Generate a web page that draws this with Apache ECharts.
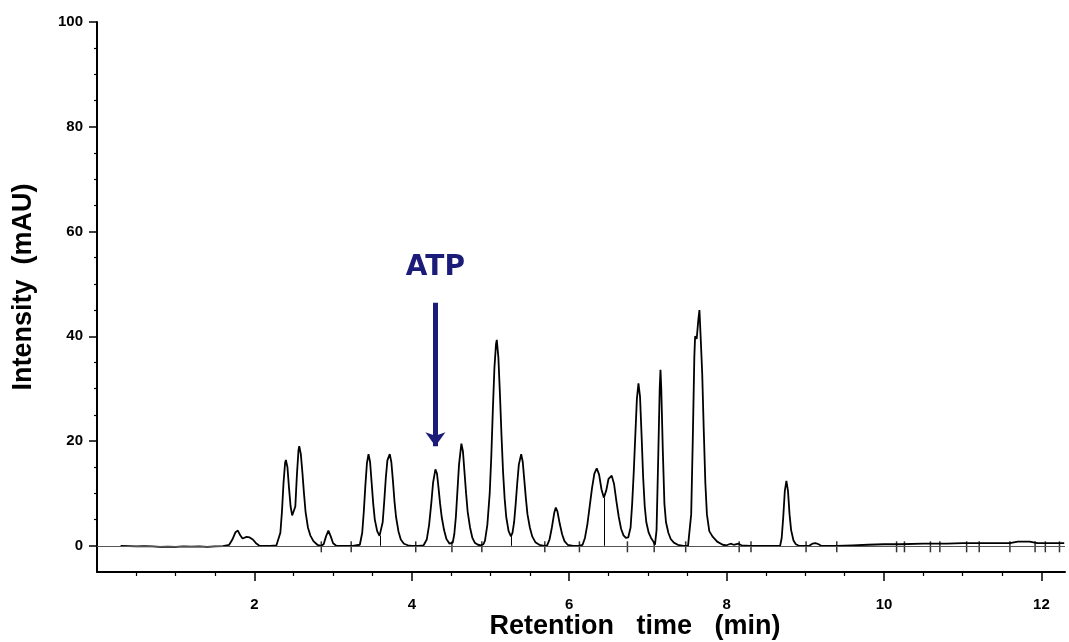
<!DOCTYPE html>
<html>
<head>
<meta charset="utf-8">
<script src="https://cdn.jsdelivr.net/npm/echarts@6/dist/echarts.min.js"></script>
<style>
html,body{margin:0;padding:0;background:#fff;}
#chart{width:1069px;height:642px;}
</style>
</head>
<body>
<div id="chart"></div>
<script>
// Chromatogram trace: [retention time (min), intensity (mAU)]
const chromatogram = [
[0.30,0],[0.40,-0.05],[0.50,-0.1],[0.60,-0.05],[0.70,-0.1],[0.80,-0.2],[0.90,-0.15],[1.00,-0.2],[1.10,-0.1],[1.20,-0.15],[1.30,-0.1],[1.40,-0.2],[1.50,-0.1],[1.60,-0.05],[1.68,0.2],[1.72,1.2],[1.76,2.6],[1.79,2.9],[1.82,2.0],[1.85,1.4],[1.90,1.7],[1.94,1.6],[1.98,1.2],[2.02,0.5],[2.06,0.05],[2.10,0],[2.20,0],[2.28,0.1],
[2.30,0.4],[2.33,2.5],[2.35,6.5],[2.37,12],[2.39,15.8],[2.40,16.4],[2.42,15],[2.44,11],[2.46,7.5],[2.48,5.8],[2.50,5.5],[2.52,7.5],[2.54,13.5],[2.56,18.2],[2.57,19.0],[2.59,17.5],[2.61,14],[2.63,10],[2.65,6.5],[2.68,3.5],[2.71,2.0],[2.75,0.9],[2.80,0.2],[2.85,0],
[2.88,0.3],[2.91,1.8],[2.94,2.9],[2.97,1.8],[3.00,0.5],[3.04,0],[3.15,0],[3.25,0],
[3.34,0.2],[3.37,2.5],[3.39,6.5],[3.41,11.5],[3.43,15.8],[3.45,17.5],[3.47,16],[3.49,12],[3.51,8],[3.53,5],[3.56,2.8],[3.59,1.9],[3.61,2.2],[3.63,4.5],[3.65,8.5],[3.67,13],[3.69,16.3],[3.72,17.5],[3.74,16],[3.76,12.5],[3.78,8.5],[3.80,5.5],[3.83,2.8],[3.86,1.2],[3.90,0.4],[3.95,0.1],[4.00,0],[4.08,0],[4.15,0.1],
[4.19,1.2],[4.22,4],[4.25,8.5],[4.27,12],[4.30,14.6],[4.32,13.8],[4.34,11],[4.36,8],[4.38,5.5],[4.41,3],[4.44,1.3],[4.48,0.4],[4.50,0.3],
[4.52,0.6],[4.54,2.2],[4.56,5.5],[4.58,10.5],[4.60,15.5],[4.63,19.5],[4.65,18],[4.67,14],[4.69,10],[4.71,6.5],[4.74,3.5],[4.77,1.5],[4.80,0.6],[4.84,0.2],[4.88,0.1],
[4.91,0.3],[4.93,1],[4.96,4],[4.99,10],[5.01,17],[5.03,26],[5.05,34],[5.07,38.5],[5.08,39.3],[5.10,36],[5.12,29],[5.14,21],[5.16,14],[5.18,9],[5.20,5.5],[5.23,2.8],[5.26,1.8],
[5.28,2.5],[5.30,4.5],[5.32,8],[5.34,12],[5.36,15.5],[5.39,17.5],[5.41,16],[5.43,12.5],[5.45,9],[5.47,6],[5.50,3.5],[5.53,1.8],[5.57,0.7],[5.62,0.2],[5.68,0],
[5.72,0.1],[5.75,1.2],[5.78,3.5],[5.81,6.3],[5.83,7.3],[5.85,6.6],[5.88,4.2],[5.91,2.2],[5.94,0.9],[5.98,0.2],[6.05,0],[6.12,0],
[6.17,0.2],[6.20,1.5],[6.23,4],[6.26,7.5],[6.29,11],[6.32,13.8],[6.35,14.8],[6.38,13.6],[6.41,10.8],[6.44,9.2],[6.47,10.5],[6.50,12.8],[6.54,13.4],[6.57,11.8],[6.60,8.5],[6.63,5.5],[6.66,3.2],[6.69,2],[6.72,1.5],
[6.75,1.6],[6.78,3.5],[6.80,8],[6.82,14],[6.84,21],[6.86,28],[6.88,31],[6.90,28.5],[6.92,21],[6.94,13],[6.96,7.5],[6.98,4.5],[7.01,2.5],[7.04,1.5],[7.07,0.8],[7.09,0.2],
[7.11,3],[7.13,16],[7.15,30],[7.16,33.6],[7.17,30],[7.19,18],[7.21,8],[7.23,4.5],[7.26,2.5],[7.29,1.3],[7.33,0.6],[7.38,0.2],[7.45,0],[7.51,0],
[7.53,0.3],[7.55,6],[7.57,20],[7.59,36],[7.60,40],[7.62,39.5],[7.64,43],[7.655,45],[7.67,40],[7.69,33],[7.71,22],[7.73,12],[7.75,6],[7.78,2.8],[7.82,1.8],[7.88,0.8],[7.95,0.2],[8.00,0.1],[8.05,0.4],[8.09,0.2],[8.15,0.4],[8.19,0.1],[8.30,0],[8.45,0],[8.60,0],
[8.68,0],[8.70,1.5],[8.72,5.5],[8.74,10.5],[8.76,12.4],[8.78,10.5],[8.80,6],[8.82,3],[8.85,1],[8.88,0.3],[8.92,0],[9.05,0],[9.09,0.4],[9.13,0.5],[9.17,0.3],[9.20,0],[9.40,0],[9.60,0.1],[9.80,0.2],[10.00,0.3],[10.20,0.3],[10.50,0.4],[10.80,0.4],[11.00,0.5],[11.30,0.5],[11.60,0.5],[11.70,0.8],[11.85,0.8],[11.95,0.5],[12.20,0.5],[12.29,0.5]
];
// Integration event marks on the baseline (min)
const eventTimes = [2.85,3.23,4.05,4.51,4.89,5.69,6.13,6.74,7.08,7.48,8.16,8.31,9.01,9.40,10.16,10.26,10.59,10.71,11.05,11.21,11.60,11.92,12.05,12.23];
// Drop lines from baseline to valley: [time, intensity]
const dropLines = [[3.60,1.9],[5.26,1.8],[6.44,9.2]];
// Annotation
const atpLabel = 'ATP';
const atpArrow = {time: 4.30, from: 46.4, to: 19.0, labelAt: 53};
// Axes
const xRange = [0, 12.3];
const yRange = [-5, 100];
const xMajorTicks = [2,4,6,8,10,12];
const xMinorTicks = [0.5,1,1.5,2.5,3,3.5,4.5,5,5.5,6.5,7,7.5,8.5,9,9.5,10.5,11,11.5];
const yMajorTicks = [0,20,40,60,80,100];
const yMinorTicks = [5,10,15,25,30,35,45,50,55,65,70,75,85,90,95];
const xTitle = 'Retention   time   (min)';
const yTitle = 'Intensity  (mAU)';

const FONT = '"Liberation Sans", Arial, sans-serif';
const navy = '#1b1b7a';
const chart = echarts.init(document.getElementById('chart'), null, {renderer: 'canvas'});

const baseAxisX = {
  type: 'value', min: xRange[0], max: xRange[1], position: 'bottom', offset: 0,
  splitLine: {show: false}
};
const baseAxisY = {
  type: 'value', min: yRange[0], max: yRange[1], position: 'left', offset: 0,
  splitLine: {show: false}
};

chart.setOption({
  animation: false,
  backgroundColor: '#fff',
  grid: {left: 97, right: 4, top: 22, bottom: 70, containLabel: false},
  xAxis: [
    Object.assign({}, baseAxisX, {
      axisLine: {show: true, onZero: false, lineStyle: {color: '#000', width: 2}},
      axisTick: {show: true, inside: false, length: 9, customValues: xMajorTicks, lineStyle: {color: '#000', width: 1.5}},
      axisLabel: {show: true, customValues: xMajorTicks, margin: 25, color: '#000', fontFamily: FONT, fontWeight: 'bold', fontSize: 15}
    }),
    Object.assign({}, baseAxisX, {
      axisLine: {show: false, onZero: false},
      axisTick: {show: true, inside: false, length: 4, customValues: xMinorTicks, lineStyle: {color: '#000', width: 1.2}},
      axisLabel: {show: false}
    })
  ],
  yAxis: [
    Object.assign({}, baseAxisY, {
      axisLine: {show: true, onZero: false, lineStyle: {color: '#000', width: 2}},
      axisTick: {show: true, inside: false, length: 8, customValues: yMajorTicks, lineStyle: {color: '#000', width: 1.5}},
      axisLabel: {show: true, customValues: yMajorTicks, margin: 14, color: '#000', fontFamily: FONT, fontWeight: 'bold', fontSize: 15}
    }),
    Object.assign({}, baseAxisY, {
      axisLine: {show: false, onZero: false},
      axisTick: {show: true, inside: false, length: 3, customValues: yMinorTicks, lineStyle: {color: '#000', width: 1.2}},
      axisLabel: {show: false}
    })
  ],
  graphic: [
    {type: 'text', x: 635, y: 627, style: {text: xTitle, fill: '#000', font: 'bold 27px ' + FONT, textAlign: 'center', textVerticalAlign: 'middle'}},
    {type: 'text', rotation: Math.PI / 2, x: 24, y: 287, style: {text: yTitle, fill: '#000', font: 'bold 27px ' + FONT, textAlign: 'center', textVerticalAlign: 'middle'}}
  ],
  series: [
    {
      type: 'line', xAxisIndex: 0, yAxisIndex: 0,
      data: chromatogram, showSymbol: false, symbol: 'none', smooth: false,
      lineStyle: {color: '#000', width: 1.8}, z: 3,
      markLine: {
        silent: true, symbol: ['none', 'none'], animation: false,
        label: {show: false},
        lineStyle: {color: '#555', width: 1, type: 'solid'},
        data: [
          [{coord: [xRange[0], 0]}, {coord: [xRange[1], 0]}]
        ].concat(dropLines.map(d => [
          {coord: [d[0], 0], lineStyle: {color: '#000', width: 1}},
          {coord: [d[0], d[1]]}
        ]))
      }
    },
    {
      type: 'scatter', xAxisIndex: 0, yAxisIndex: 0,
      data: eventTimes.map(t => [t, 0]),
      symbol: 'rect', symbolSize: [1.5, 11], symbolOffset: [0, 1],
      itemStyle: {color: '#000'}, silent: true, z: 4
    },
    {
      type: 'line', xAxisIndex: 0, yAxisIndex: 0, data: [], silent: true,
      markLine: {
        silent: true, animation: false,
        symbol: ['none', 'arrow'], symbolSize: [15, 14],
        label: {show: false},
        lineStyle: {color: navy, width: 5, type: 'solid'},
        data: [[{coord: [atpArrow.time, atpArrow.from]}, {coord: [atpArrow.time, atpArrow.to]}]]
      },
      markPoint: {
        silent: true, symbol: 'circle', symbolSize: 0,
        label: {show: true, formatter: atpLabel, color: navy, fontFamily: '"DejaVu Sans", sans-serif', fontWeight: 'bold', fontSize: 28, position: 'inside'},
        data: [{coord: [atpArrow.time, atpArrow.labelAt]}]
      }
    }
  ]
});
</script>
</body>
</html>
